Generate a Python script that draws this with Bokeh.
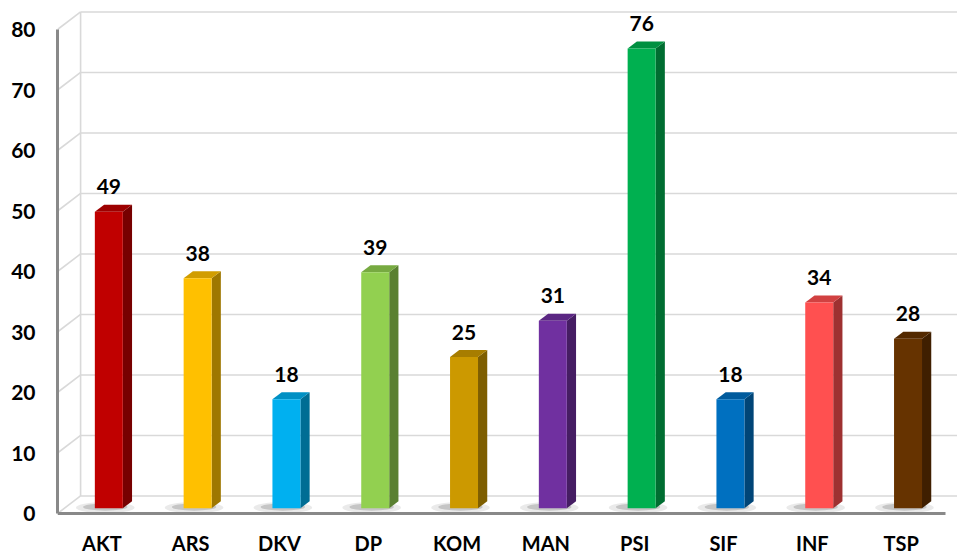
import numpy as np
from bokeh.plotting import figure
from bokeh.models import Range1d, FixedTicker
from bokeh.core.properties import value
from bokeh.embed import file_html
from bokeh.resources import INLINE

# ---- data ----
categories = ["AKT", "ARS", "DKV", "DP", "KOM", "MAN", "PSI", "SIF", "INF", "TSP"]
counts = [49, 38, 18, 39, 25, 31, 76, 18, 34, 28]
y_ticks = [0, 10, 20, 30, 40, 50, 60, 70, 80]
front_colors = ["#C00000", "#FFC000", "#00B0F0", "#92D050", "#CC9900",
                "#7030A0", "#00B050", "#0070C0", "#FF5050", "#663300"]

# ---- styling helpers ----
def shade(hex_color, f):
    h = hex_color.lstrip("#")
    r, g, b = (int(h[i:i + 2], 16) for i in (0, 2, 4))
    return "#%02x%02x%02x" % (int(r * f), int(g * f), int(b * f))

side_colors = [shade(c, 0.62) for c in front_colors]
top_colors = [shade(c, 0.82) for c in front_colors]

FONT = "Lato"
DX, DY = 0.26, 2.9        # depth of the 3-D box (data units)
BAR_OFF, BAR_DEP = 0.3, 0.4
BAR_W = 0.315
PX_X, PX_Y = 88.8, 6.05   # pixels per data unit
X_END = 900 / PX_X
Y_START, Y_END = -41 / PX_Y, 513 / PX_Y

n = len(categories)
centers = np.arange(n) + 0.5
vals = np.array(counts, dtype=float)

p = figure(width=957, height=554, x_range=Range1d(0, X_END), y_range=Range1d(Y_START, Y_END),
           output_backend="svg", toolbar_location=None,
           min_border_left=57, min_border_bottom=0, min_border_top=0, min_border_right=0)
p.background_fill_color = "white"
p.border_fill_color = "white"
p.outline_line_color = None
p.grid.visible = False

GRID = "#d9d9d9"
yt = np.array(y_ticks, dtype=float)
# back-wall gridlines
p.segment(x0=[DX] * len(yt), y0=yt + DY, x1=[X_END + 1] * len(yt), y1=yt + DY,
          line_color=GRID, line_width=1.6)
# left-wall diagonals
p.segment(x0=[0] * len(yt), y0=yt, x1=[DX] * len(yt), y1=yt + DY,
          line_color=GRID, line_width=1.6)
# back-left vertical edge
p.segment(x0=[DX], y0=[DY], x1=[DX], y1=[y_ticks[-1] + DY], line_color=GRID, line_width=1.6)

# shadows on the floor
fx = centers + BAR_OFF * DX
p.ellipse(x=fx - 0.04, y=[BAR_OFF * DY + 0.1] * n, width=[0.66] * n, height=[1.8] * n,
          fill_color="#7f7f7f", fill_alpha=0.16, line_color=None)
p.ellipse(x=fx - 0.04, y=[BAR_OFF * DY + 0.2] * n, width=[0.5] * n, height=[1.2] * n,
          fill_color="#6f6f6f", fill_alpha=0.3, line_color=None)

# bars
left = fx - BAR_W / 2
right = fx + BAR_W / 2
bottom = np.full(n, BAR_OFF * DY)
top = vals + BAR_OFF * DY
bdx, bdy = BAR_DEP * DX, BAR_DEP * DY

side_xs = [[r, r + bdx, r + bdx, r] for r in right]
side_ys = [[b, b + bdy, t + bdy, t] for b, t in zip(bottom, top)]
p.patches(side_xs, side_ys, fill_color=side_colors, line_color=None)

top_xs = [[l, l + bdx, r + bdx, r] for l, r in zip(left, right)]
top_ys = [[t, t + bdy, t + bdy, t] for t in top]
p.patches(top_xs, top_ys, fill_color=top_colors, line_color=None)

p.quad(left=left, right=right, bottom=bottom, top=top, fill_color=front_colors, line_color=None)

# value labels
p.text(x=fx, y=vals + 5.0, text=[str(v) for v in counts], text_align="center",
       text_baseline="alphabetic", text_font=value(FONT), text_font_style="bold",
       text_font_size="21px", text_color="black")

# axes
AX = "#898989"
p.yaxis.ticker = FixedTicker(ticks=y_ticks)
p.yaxis.bounds = (0, y_ticks[-1])
p.yaxis.axis_line_color = AX
p.yaxis.axis_line_width = 3
p.yaxis.major_tick_line_color = None
p.yaxis.minor_tick_line_color = None
p.yaxis.major_tick_out = 0
p.yaxis.major_label_standoff = 22
p.yaxis.major_label_text_font = FONT
p.yaxis.major_label_text_font_style = "bold"
p.yaxis.major_label_text_font_size = "21px"
p.yaxis.major_label_text_color = "black"

p.xaxis.fixed_location = 0
p.xaxis.ticker = FixedTicker(ticks=list(centers))
p.xaxis.major_label_overrides = {float(c): name for c, name in zip(centers, categories)}
p.xaxis.bounds = (0, n)
p.xaxis.axis_line_color = AX
p.xaxis.axis_line_width = 3
p.xaxis.major_tick_line_color = None
p.xaxis.minor_tick_line_color = None
p.xaxis.major_tick_out = 0
p.xaxis.major_label_standoff = 17
p.xaxis.major_label_text_font = FONT
p.xaxis.major_label_text_font_style = "bold"
p.xaxis.major_label_text_font_size = "20px"
p.xaxis.major_label_text_color = "black"

open("out.html", "w").write(file_html(p, INLINE))
